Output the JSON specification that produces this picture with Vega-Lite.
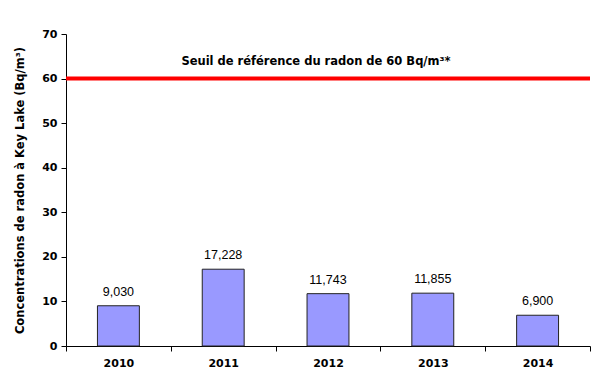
{
  "$schema": "https://vega.github.io/schema/vega-lite/v6.json",
  "width": 524,
  "height": 312,
  "autosize": {"type": "none"},
  "padding": {"left": 66, "top": 34, "right": 5, "bottom": 42},
  "background": "white",
  "config": {
    "view": {"stroke": null},
    "axis": {"grid": false, "domainColor": "black", "tickColor": "black", "labelColor": "black", "titleColor": "black", "labelFont": "DejaVu Sans", "titleFont": "DejaVu Sans", "labelFontWeight": "bold", "titleFontWeight": "bold", "labelFontSize": 11, "titleFontSize": 11.5}
  },
  "data": {
    "values": [
      {"annee": "2010", "valeur": 9.03, "etiquette": "9,030"},
      {"annee": "2011", "valeur": 17.228, "etiquette": "17,228"},
      {"annee": "2012", "valeur": 11.743, "etiquette": "11,743"},
      {"annee": "2013", "valeur": 11.855, "etiquette": "11,855"},
      {"annee": "2014", "valeur": 6.9, "etiquette": "6,900"}
    ]
  },
  "encoding": {
    "x": {
      "field": "annee", "type": "ordinal", "title": null,
      "scale": {"paddingInner": 0, "paddingOuter": 0},
      "axis": {"labelAngle": 0, "tickBand": "extent", "tickSize": 5, "labelPadding": 6}
    },
    "y": {
      "field": "valeur", "type": "quantitative",
      "title": "Concentrations de radon  à Key Lake (Bq/m³)",
      "scale": {"domain": [0, 70], "nice": false},
      "axis": {"values": [0, 10, 20, 30, 40, 50, 60, 70], "tickSize": 5, "labelPadding": 4, "titlePadding": 16}
    }
  },
  "layer": [
    {
      "mark": {"type": "bar", "color": "#9999ff", "stroke": "#222222", "strokeWidth": 1, "width": {"band": 0.4}}
    },
    {
      "mark": {"type": "text", "baseline": "bottom", "dy": -7, "font": "Liberation Sans", "fontSize": 12.5, "color": "black"},
      "encoding": {"text": {"field": "etiquette"}}
    },
    {
      "data": {"values": [{"seuil": 60, "texte": "Seuil de référence du radon de 60 Bq/m³*", "annee": "2012"}]},
      "layer": [
        {
          "mark": {"type": "rule", "color": "#ff0000", "strokeWidth": 4},
          "encoding": {"y": {"field": "seuil", "type": "quantitative"}, "x": {"value": 0}, "x2": {"value": 524}}
        },
        {
          "mark": {"type": "text", "font": "DejaVu Sans", "fontWeight": "bold", "fontSize": 11.5, "dy": -17, "dx": -12, "color": "black"},
          "encoding": {"y": {"field": "seuil", "type": "quantitative"}, "x": {"field": "annee", "type": "ordinal"}, "text": {"field": "texte"}}
        }
      ]
    }
  ]
}
